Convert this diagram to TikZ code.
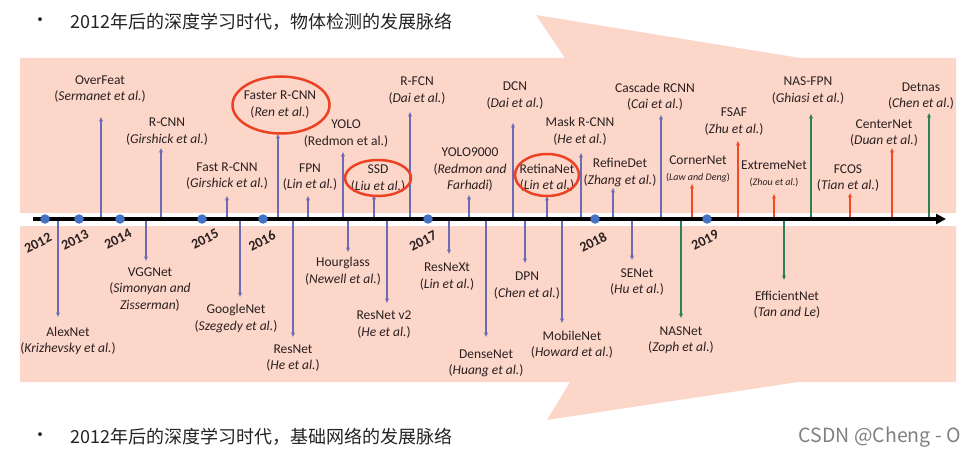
\documentclass[tikz,border=0pt]{standalone}
\usepackage{fontspec}
\setmainfont{Carlito}
\newfontfamily\cjk{Noto Sans CJK SC}
\usepackage{tikz}
\usetikzlibrary{arrows.meta,shapes.geometric}
\usepackage{xcolor}
\definecolor{bandpink}{RGB}{252,214,201}
\definecolor{linkblue}{RGB}{108,108,182}
\definecolor{afred}{RGB}{245,72,36}
\definecolor{nasgreen}{RGB}{46,126,86}
\definecolor{ringred}{RGB}{236,66,36}
\definecolor{dotblue}{RGB}{68,114,196}
\definecolor{ink}{RGB}{42,32,32}
\definecolor{headgrey}{RGB}{35,35,35}
\newcommand{\lblfont}{\fontsize{13.5}{16.5}\selectfont}
\newcommand{\smallauth}[1]{{\fontsize{10}{12}\selectfont(\textit{#1})}}

\begin{document}
\begin{tikzpicture}[
    x=1pt, y=-1pt,
    lbl/.style={align=center, font=\lblfont, text=ink, inner sep=0pt},
    tipbase/.style={-{Triangle[length=4.5pt,width=3.6pt]}, line width=1.3pt},
    blu/.style={tipbase, linkblue},
    af/.style={tipbase, afred},
    nas/.style={tipbase, nasgreen},
    ring/.style={draw=ringred, line width=2.5pt, ellipse, inner sep=0pt},
    yr/.style={font=\fontsize{14}{14}\bfseries, text=ink, rotate=27, inner sep=0pt},
    dot/.style={circle, fill=dotblue, inner sep=0pt, minimum size=9.5pt},
    cjkline/.style={font=\cjk\fontsize{18}{20}\selectfont, text=headgrey, inner sep=0pt}
]
    \useasboundingbox (0,0) rectangle (974,457);

    % bands
    \fill[bandpink] (20,58) -- (565,58) -- (536,15) -- (800,58) -- (956,58)
        -- (956,213) -- (20,213) -- cycle;
    \fill[bandpink] (20,226) -- (956,226) -- (956,382) -- (798,382)
        -- (547,420) -- (570,382) -- (20,382) -- cycle;

    % headings
    \node[cjkline] (bul1) at (40,22) {•};
    \node[cjkline, anchor=west] (head1) at (70,22) {2012年后的深度学习时代，物体检测的发展脉络};
    \node[cjkline] (bul2) at (40,437) {•};
    \node[cjkline, anchor=west] (head2) at (70,437) {2012年后的深度学习时代，基础网络的发展脉络};
    \node[font=\cjk\fontsize{19.5}{21}\selectfont, text=black!50, anchor=east, inner sep=0pt] (mark) at (961,437) {CSDN @Cheng - O};

    \coordinate (axis) at (0,219);
    \coordinate (axis-l) at (33,219);
    \coordinate (axis-r) at (946,219);

    % detection (up)
    \node[lbl] (overfeat) at (100,89) {OverFeat\\(\textit{Sermanet et al.})};
    \coordinate (overfeat-t) at (101,117);
    \node[lbl] (rcnn) at (167,131.5) {R-CNN\\(\textit{Girshick et al.})};
    \coordinate (rcnn-t) at (161,148);
    \node[lbl] (fastrcnn) at (227,176) {Fast R-CNN\\(\textit{Girshick et al.})};
    \coordinate (fastrcnn-t) at (227,196);
    \node[lbl] (faster) at (280,104.5) {Faster R-CNN\\(\textit{Ren et al.})};
    \coordinate (faster-t) at (278,134);
    \node[lbl] (fpn) at (310,177) {FPN\\(\textit{Lin et al.})};
    \coordinate (fpn-t) at (308,196);
    \node[lbl] (yolo) at (346,133.5) {YOLO\\(Redmon et al.)};
    \coordinate (yolo-t) at (343,152);
    \node[lbl] (ssd) at (378,178.5) {SSD\\(\textit{Liu et al.})};
    \coordinate (ssd-t) at (374,195);
    \node[lbl] (rfcn) at (417,90.5) {R-FCN\\(\textit{Dai et al.})};
    \coordinate (rfcn-t) at (410,112);
    \node[lbl] (yolo9k) at (470,170) {YOLO9000\\(\textit{Redmon and}\\\textit{Farhadi})};
    \coordinate (yolo9k-t) at (469,195);
    \node[lbl] (dcn) at (515,95.5) {DCN\\(\textit{Dai et al.})};
    \coordinate (dcn-t) at (513,123);
    \node[lbl] (retina) at (547,178) {RetinaNet\\(\textit{Lin et al.})};
    \coordinate (retina-t) at (547,196);
    \node[lbl] (mask) at (580,131.5) {Mask R-CNN\\(\textit{He et al.})};
    \coordinate (mask-t) at (581,153);
    \node[lbl] (refinedet) at (620,172.5) {RefineDet\\(\textit{Zhang et al.})};
    \coordinate (refinedet-t) at (613,188);
    \node[lbl] (cascade) at (655,97) {Cascade RCNN\\(\textit{Cai et al.})};
    \coordinate (cascade-t) at (661,115);
    \node[lbl] (corner) at (698,169) {CornerNet\\\smallauth{Law and Deng}};
    \coordinate (corner-t) at (692,184);
    \node[lbl] (fsaf) at (734,121.5) {FSAF\\(\textit{Zhu et al.})};
    \coordinate (fsaf-t) at (738,141);
    \node[lbl] (extreme) at (774,174) {ExtremeNet\\\smallauth{Zhou et al.}};
    \coordinate (extreme-t) at (774,194);
    \node[lbl] (nasfpn) at (808,90.5) {NAS-FPN\\(\textit{Ghiasi et al.})};
    \coordinate (nasfpn-t) at (811,114);
    \node[lbl] (fcos) at (848,178) {FCOS\\(\textit{Tian et al.})};
    \coordinate (fcos-t) at (850,193);
    \node[lbl] (centernet) at (884,133) {CenterNet\\(\textit{Duan et al.})};
    \coordinate (centernet-t) at (892,148);
    \node[lbl] (detnas) at (921,96) {Detnas\\(\textit{Chen et al.})};
    \coordinate (detnas-t) at (929,113);

    % backbones (down)
    \node[lbl] (alexnet) at (68,341) {AlexNet\\(\textit{Krizhevsky et al.})};
    \coordinate (alexnet-t) at (58,317);
    \node[lbl] (vgg) at (150,289.5) {VGGNet\\(\textit{Simonyan and}\\\textit{Zisserman})};
    \coordinate (vgg-t) at (146,261);
    \node[lbl] (google) at (236,318.5) {GoogleNet\\(\textit{Szegedy et al.})};
    \coordinate (google-t) at (240,297);
    \node[lbl] (resnet) at (293,358) {ResNet\\(\textit{He et al.})};
    \coordinate (resnet-t) at (293,337);
    \node[lbl] (hourglass) at (343,271) {Hourglass\\(\textit{Newell et al.})};
    \coordinate (hourglass-t) at (348,252);
    \node[lbl] (resnet2) at (384,324.5) {ResNet v2\\(\textit{He et al.})};
    \coordinate (resnet2-t) at (387,303);
    \node[lbl] (resnext) at (447,276.5) {ResNeXt\\(\textit{Lin et al.})};
    \coordinate (resnext-t) at (449,254);
    \node[lbl] (densenet) at (486,363.5) {DenseNet\\(\textit{Huang et al.})};
    \coordinate (densenet-t) at (486,337);
    \node[lbl] (dpn) at (527,285.5) {DPN\\(\textit{Chen et al.})};
    \coordinate (dpn-t) at (525,263);
    \node[lbl] (mobilenet) at (572,344.5) {MobileNet\\(\textit{Howard et al.})};
    \coordinate (mobilenet-t) at (562,323);
    \node[lbl] (senet) at (637,282) {SENet\\(\textit{Hu et al.})};
    \coordinate (senet-t) at (632,260);
    \node[lbl] (nasnet) at (681,340) {NASNet\\(\textit{Zoph et al.})};
    \coordinate (nasnet-t) at (681,318);
    \node[lbl] (effnet) at (787,305) {EfficientNet\\(\textit{Tan and Le})};
    \coordinate (effnet-t) at (784,280);

    \foreach \n in {overfeat,rcnn,fastrcnn,faster,fpn,yolo,ssd,rfcn,yolo9k,dcn,retina,
        mask,refinedet,cascade,alexnet,vgg,google,resnet,hourglass,resnet2,resnext,
        densenet,dpn,mobilenet,senet}
        \draw[blu] (\n-t |- axis) -- (\n-t);
    \foreach \n in {corner,fsaf,extreme,fcos,centernet}
        \draw[af] (\n-t |- axis) -- (\n-t);
    \foreach \n in {nasfpn,detnas,nasnet,effnet}
        \draw[nas] (\n-t |- axis) -- (\n-t);

    % highlighted ones
    \node[ring, minimum width=97pt, minimum height=57pt] (faster-ring) at (281,105) {};
    \node[ring, minimum width=66pt, minimum height=36pt] (ssd-ring) at (378,178) {};
    \node[ring, minimum width=64pt, minimum height=42pt] (retina-ring) at (547,175) {};

    % time axis
    \draw[line width=3.2pt, -{Triangle[length=10pt,width=10pt]}] (axis-l) -- (axis-r);
    \node[dot] (d12) at (45,219) {};
    \node[dot] (d13) at (79,219) {};
    \node[dot] (d14) at (120,219) {};
    \node[dot] (d15) at (202,219) {};
    \node[dot] (d16) at (263,219) {};
    \node[dot] (d17) at (428,219) {};
    \node[dot] (d18) at (595,219) {};
    \node[dot] (d19) at (707,219) {};
    \node[yr] (y12) at (38,243) {2012};
    \node[yr] (y13) at (75,240) {2013};
    \node[yr] (y14) at (118,239) {2014};
    \node[yr] (y15) at (205,239) {2015};
    \node[yr] (y16) at (262,241) {2016};
    \node[yr] (y17) at (423,241) {2017};
    \node[yr] (y18) at (593,242) {2018};
    \node[yr] (y19) at (705,240) {2019};
\end{tikzpicture}
\end{document}
